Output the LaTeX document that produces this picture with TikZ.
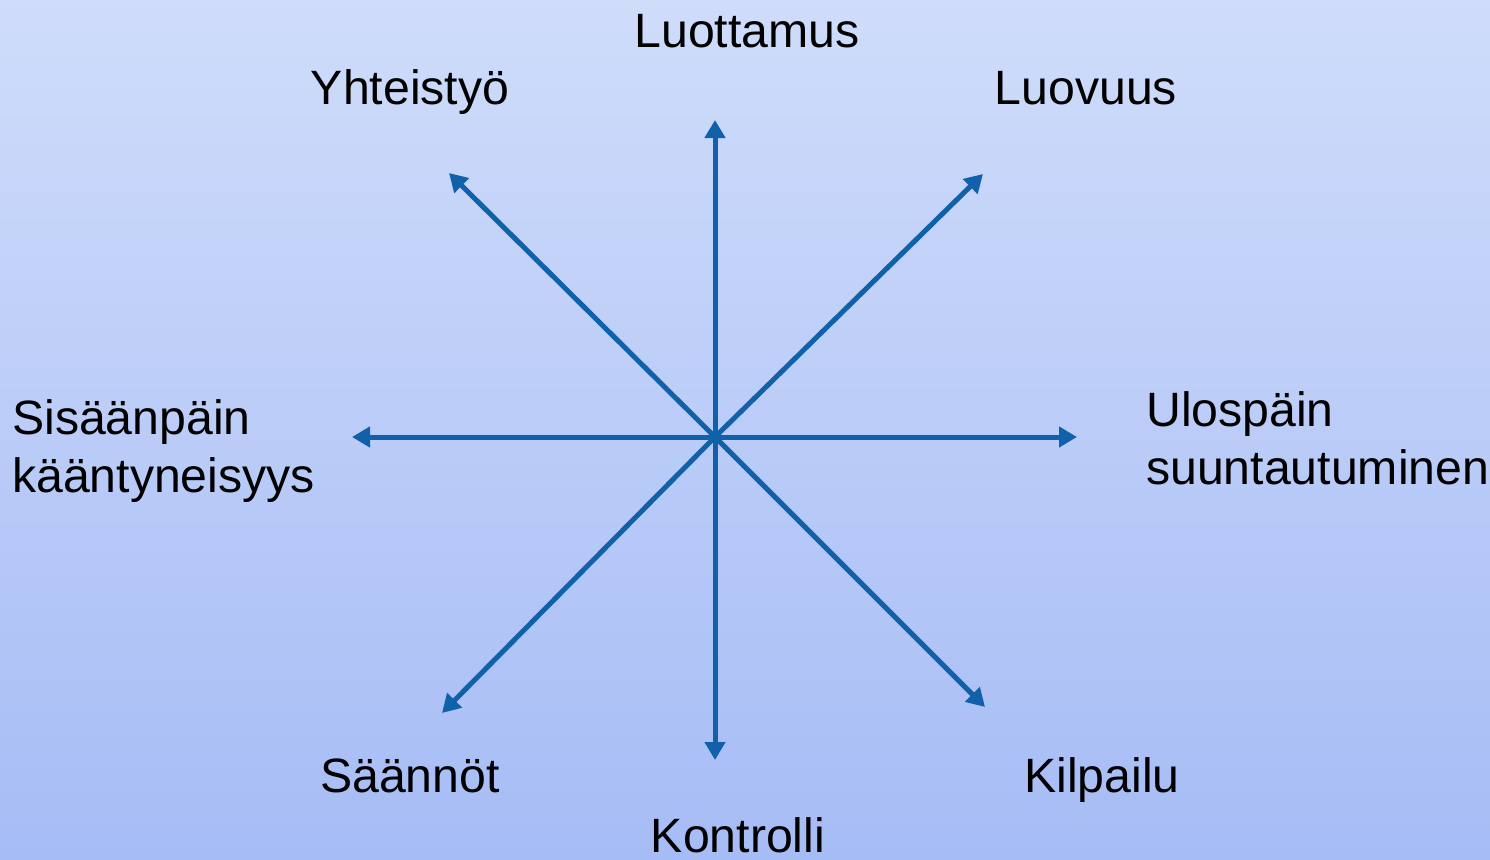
\documentclass[tikz,border=0pt]{standalone}
\usepackage{fontspec}
\setmainfont{Liberation Sans}
\usetikzlibrary{arrows.meta}
\definecolor{bgtop}{HTML}{CFDCFA}
\definecolor{bgbot}{HTML}{A6BCF5}
\definecolor{arrowblue}{HTML}{1060AA}
\tikzset{
  axis/.style={draw=arrowblue, line width=5pt, -{Triangle[length=18pt,width=20pt]}},
  lbl/.style={inner sep=0pt, font=\fontsize{48.2}{59}\selectfont, text=black},
}
\begin{document}
\begin{tikzpicture}[x=1pt,y=-1pt]
\shade[top color=bgtop, bottom color=bgbot] (0,0) rectangle (1490,859);
\useasboundingbox (0,0) rectangle (1490,859);
\coordinate (c) at (715,437);
\coordinate (n) at (715,120);
\coordinate (s) at (715,760);
\coordinate (w) at (352,437);
\coordinate (e) at (1077,437);
\coordinate (nw) at (449,173);
\coordinate (ne) at (983,174);
\coordinate (sw) at (442,713);
\coordinate (se) at (985,707);
\foreach \t in {n,s,w,e,nw,ne,sw,se} \draw[axis] (c) -- (\t);
\node[lbl, anchor=base] (luottamus) at (747,48) {Luottamus};
\node[lbl, anchor=base] (yhteistyo) at (410,104) {Yhteistyö};
\node[lbl, anchor=base] (luovuus) at (1086,104) {Luovuus};
\node[lbl, anchor=base west] (sisaan) at (12,434) {Sisäänpäin};
\node[lbl, anchor=base west] (kaant) at (12,492) {kääntyneisyys};
\node[lbl, anchor=base west] (ulos) at (1146,426) {Ulospäin};
\node[lbl, anchor=base west] (suunt) at (1146,484) {suuntautuminen};
\node[lbl, anchor=base] (saannot) at (410,792) {Säännöt};
\node[lbl, anchor=base] (kilpailu) at (1102,792) {Kilpailu};
\node[lbl, anchor=base] (kontrolli) at (738,852) {Kontrolli};
\end{tikzpicture}
\end{document}
